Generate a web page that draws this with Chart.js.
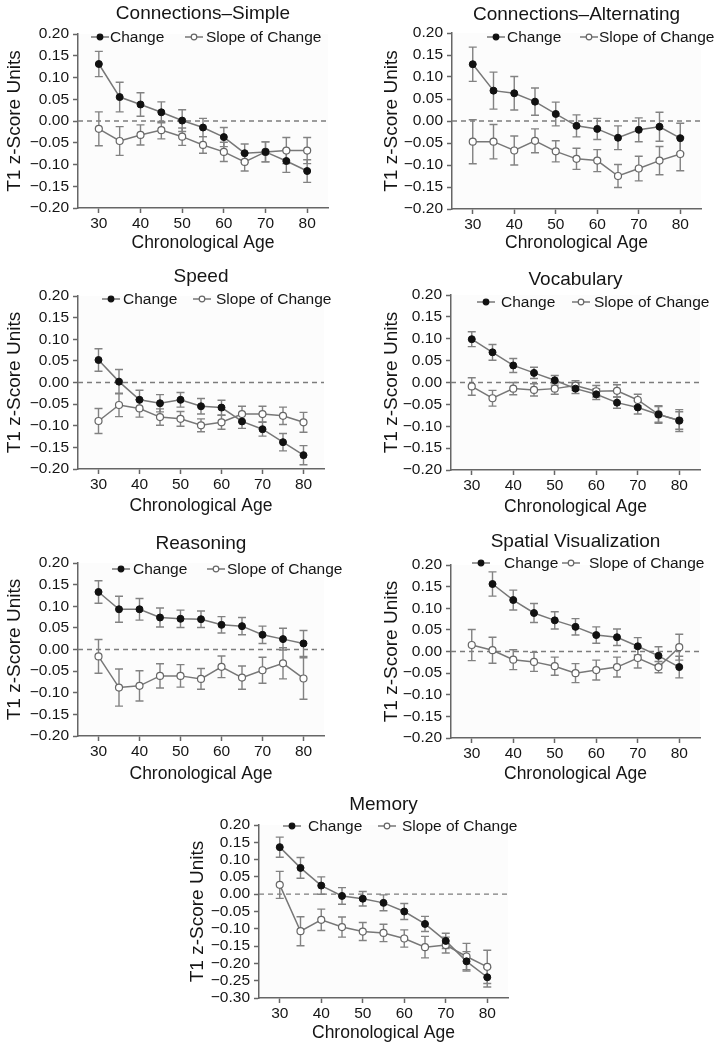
<!DOCTYPE html>
<html>
<head>
<meta charset="utf-8">
<script src="https://cdn.jsdelivr.net/npm/chart.js@4.4.0/dist/chart.umd.min.js"></script>
<style>
  html, body { margin: 0; padding: 0; background: #fff; }
  #page { position: relative; width: 724px; height: 1050px; overflow: hidden; }
  .panel { position: absolute; }
</style>
</head>
<body>
<div id="page"></div>
<script>
// x axis: chronological age groups
const ages = [30, 35, 40, 45, 50, 55, 60, 65, 70, 75, 80];
const ageTicks = [30, 40, 50, 60, 70, 80];
const zTicks = [-0.20, -0.15, -0.10, -0.05, 0.00, 0.05, 0.10, 0.15, 0.20];
const memoryTicks = [-0.30, -0.25, -0.20, -0.15, -0.10, -0.05, 0.00, 0.05, 0.10, 0.15, 0.20];

// Connections–Simple
const simpleChange    = [0.131, 0.055, 0.038, 0.020, 0.001, -0.015, -0.037, -0.074, -0.071, -0.092, -0.115];
const simpleChangeErr = [0.029, 0.034, 0.027, 0.024, 0.025, 0.021, 0.022, 0.021, 0.023, 0.026, 0.026];
const simpleSlope     = [-0.018, -0.046, -0.032, -0.021, -0.036, -0.055, -0.071, -0.094, -0.071, -0.068, -0.068];
const simpleSlopeErr  = [0.039, 0.033, 0.023, 0.020, 0.020, 0.019, 0.022, 0.021, 0.023, 0.030, 0.030];

// Connections–Alternating
const altChange    = [0.129, 0.069, 0.063, 0.044, 0.016, -0.011, -0.018, -0.038, -0.020, -0.013, -0.039];
const altChangeErr = [0.039, 0.042, 0.038, 0.031, 0.027, 0.025, 0.024, 0.027, 0.027, 0.033, 0.034];
const altSlope     = [-0.047, -0.047, -0.067, -0.045, -0.069, -0.086, -0.090, -0.125, -0.108, -0.090, -0.075];
const altSlopeErr  = [0.050, 0.039, 0.033, 0.027, 0.024, 0.024, 0.025, 0.026, 0.028, 0.032, 0.038];

// Speed
const speedChange    = [0.052, 0.002, -0.040, -0.048, -0.040, -0.055, -0.058, -0.090, -0.108, -0.138, -0.168];
const speedChangeErr = [0.026, 0.028, 0.022, 0.020, 0.017, 0.018, 0.017, 0.016, 0.016, 0.020, 0.022];
const speedSlope     = [-0.089, -0.052, -0.060, -0.080, -0.084, -0.099, -0.092, -0.073, -0.073, -0.077, -0.092];
const speedSlopeErr  = [0.029, 0.027, 0.020, 0.019, 0.017, 0.015, 0.016, 0.018, 0.018, 0.020, 0.023];

// Vocabulary
const vocabChange    = [0.099, 0.069, 0.039, 0.022, 0.005, -0.014, -0.027, -0.046, -0.057, -0.073, -0.087];
const vocabChangeErr = [0.017, 0.018, 0.016, 0.013, 0.011, 0.011, 0.012, 0.013, 0.015, 0.018, 0.020];
const vocabSlope     = [-0.009, -0.036, -0.014, -0.017, -0.014, -0.007, -0.020, -0.019, -0.040, -0.073, -0.087];
const vocabSlopeErr  = [0.020, 0.018, 0.014, 0.014, 0.013, 0.011, 0.013, 0.014, 0.013, 0.020, 0.025];

// Reasoning
const reasonChange    = [0.133, 0.093, 0.093, 0.074, 0.071, 0.070, 0.057, 0.054, 0.034, 0.024, 0.014];
const reasonChangeErr = [0.026, 0.030, 0.025, 0.022, 0.020, 0.019, 0.019, 0.020, 0.020, 0.025, 0.030];
const reasonSlope     = [-0.016, -0.088, -0.084, -0.061, -0.061, -0.068, -0.040, -0.065, -0.048, -0.032, -0.067];
const reasonSlopeErr  = [0.039, 0.043, 0.035, 0.028, 0.026, 0.024, 0.025, 0.027, 0.030, 0.036, 0.048];

// Spatial Visualization (no Change estimate at 30)
const spatialChange    = [null, 0.156, 0.119, 0.089, 0.072, 0.057, 0.038, 0.033, 0.012, -0.010, -0.036];
const spatialChangeErr = [null, 0.028, 0.023, 0.022, 0.020, 0.019, 0.019, 0.019, 0.020, 0.021, 0.025];
const spatialSlope     = [0.015, 0.003, -0.019, -0.024, -0.034, -0.050, -0.043, -0.036, -0.015, -0.036, 0.010];
const spatialSlopeErr  = [0.036, 0.030, 0.023, 0.022, 0.021, 0.022, 0.023, 0.023, 0.023, 0.013, 0.030];

// Memory
const memoryChange    = [0.136, 0.076, 0.025, -0.005, -0.013, -0.025, -0.050, -0.086, -0.135, -0.194, -0.240];
const memoryChangeErr = [0.029, 0.030, 0.025, 0.024, 0.021, 0.023, 0.023, 0.022, 0.022, 0.028, 0.028];
const memorySlope     = [0.027, -0.107, -0.074, -0.095, -0.108, -0.112, -0.128, -0.153, -0.147, -0.180, -0.210];
const memorySlopeErr  = [0.039, 0.042, 0.031, 0.029, 0.026, 0.025, 0.025, 0.031, 0.023, 0.038, 0.048];

const FONT = "'Liberation Sans', Arial, Helvetica, sans-serif";
const TEXT = '#151515';
const AXIS = '#666666';
const LINE = '#777777';
const ERR = '#828282';

// box = canvas position on page, area = plot area inside the canvas
const panels = [
  { title: 'Connections\u2013Simple', change: simpleChange, changeErr: simpleChangeErr, slope: simpleSlope, slopeErr: simpleSlopeErr, ticks: zTicks,
    box: [0, 0, 362, 260], area: [78, 34, 328, 208], titleY: 14, legendY: 37, legend: [[91, 110], [185, 206]], xTitleY: 243, yTitleX: 15 },
  { title: 'Connections\u2013Alternating', change: altChange, changeErr: altChangeErr, slope: altSlope, slopeErr: altSlopeErr, ticks: zTicks,
    box: [362, 0, 362, 260], area: [90, 33, 339, 209], titleY: 15, legendY: 37, legend: [[125, 145], [218, 237]], xTitleY: 243, yTitleX: 30 },
  { title: 'Speed', change: speedChange, changeErr: speedChangeErr, slope: speedSlope, slopeErr: speedSlopeErr, ticks: zTicks,
    box: [0, 260, 362, 260], area: [78, 36, 324, 209], titleY: 17, legendY: 39, legend: [[102, 123], [193, 216]], xTitleY: 246, yTitleX: 15 },
  { title: 'Vocabulary', change: vocabChange, changeErr: vocabChangeErr, slope: vocabSlope, slopeErr: vocabSlopeErr, ticks: zTicks,
    box: [362, 260, 362, 260], area: [89, 35, 338, 210], titleY: 20, legendY: 42, legend: [[115, 139], [210, 232]], xTitleY: 247, yTitleX: 30 },
  { title: 'Reasoning', change: reasonChange, changeErr: reasonChangeErr, slope: reasonSlope, slopeErr: reasonSlopeErr, ticks: zTicks,
    box: [0, 520, 362, 270], area: [78, 43, 324, 216], titleY: 24, legendY: 49, legend: [[112, 133], [207, 227]], xTitleY: 254, yTitleX: 15 },
  { title: 'Spatial Visualization', change: spatialChange, changeErr: spatialChangeErr, slope: spatialSlope, slopeErr: spatialSlopeErr, ticks: zTicks,
    box: [362, 520, 362, 270], area: [89, 45, 338, 218], titleY: 22, legendY: 43, legend: [[110, 142], [200, 227]], xTitleY: 254, yTitleX: 30 },
  { title: 'Memory', change: memoryChange, changeErr: memoryChangeErr, slope: memorySlope, slopeErr: memorySlopeErr, ticks: memoryTicks,
    box: [180, 790, 362, 260], area: [79, 35, 328, 208], titleY: 15, legendY: 36, legend: [[103, 128], [198, 222]], xTitleY: 243, yTitleX: 18 }
];

Chart.defaults.font.family = FONT;
Chart.defaults.color = TEXT;

function fmtZ(v) {
  const s = Math.abs(v).toFixed(2);
  return v < -1e-9 ? '\u2212' + s : s;
}

// error bars, dashed zero line, title and legend
const decor = {
  id: 'decor',
  beforeDraw(chart) {
    const a = chart.chartArea, ctx = chart.ctx;
    ctx.save();
    ctx.fillStyle = '#fcfcfc';
    ctx.fillRect(a.left, a.top, a.right - a.left, a.bottom - a.top);
    ctx.restore();
  },
  beforeDatasetsDraw(chart) {
    const ctx = chart.ctx, a = chart.chartArea;
    const xs = chart.scales.x, ys = chart.scales.y;
    ctx.save();
    // zero reference
    const y0 = ys.getPixelForValue(0);
    ctx.strokeStyle = '#7c7c7c';
    ctx.lineWidth = 1.3;
    ctx.setLineDash([5, 4]);
    ctx.beginPath();
    ctx.moveTo(a.left, y0);
    ctx.lineTo(a.right, y0);
    ctx.stroke();
    ctx.setLineDash([]);
    // error bars
    ctx.strokeStyle = ERR;
    ctx.lineWidth = 1.4;
    chart.data.datasets.forEach(ds => {
      ds.data.forEach((pt, i) => {
        if (pt.y === null || ds.errors[i] === null) return;
        const px = xs.getPixelForValue(pt.x);
        const hi = ys.getPixelForValue(pt.y + ds.errors[i]);
        const lo = ys.getPixelForValue(pt.y - ds.errors[i]);
        ctx.beginPath();
        ctx.moveTo(px, hi); ctx.lineTo(px, lo);
        ctx.moveTo(px - 4, hi); ctx.lineTo(px + 4, hi);
        ctx.moveTo(px - 4, lo); ctx.lineTo(px + 4, lo);
        ctx.stroke();
      });
    });
    ctx.restore();
  },
  afterDraw(chart, args, opts) {
    const ctx = chart.ctx, a = chart.chartArea;
    ctx.save();
    ctx.fillStyle = TEXT;
    ctx.font = '19px ' + FONT;
    ctx.textAlign = 'center';
    ctx.textBaseline = 'middle';
    ctx.fillText(opts.title, (a.left + a.right) / 2, opts.titleY);
    // legend
    ctx.font = '15.5px ' + FONT;
    ctx.textAlign = 'left';
    chart.data.datasets.forEach((ds, i) => {
      const [mx, tx] = opts.legend[i];
      const y = opts.legendY;
      ctx.strokeStyle = LINE;
      ctx.lineWidth = 1.5;
      ctx.beginPath();
      ctx.moveTo(mx, y); ctx.lineTo(mx + 18, y);
      ctx.stroke();
      ctx.beginPath();
      ctx.arc(mx + 9, y, 2.8, 0, Math.PI * 2);
      ctx.fillStyle = ds.pointBackgroundColor;
      ctx.fill();
      ctx.lineWidth = 1.2;
      ctx.strokeStyle = ds.pointBorderColor;
      ctx.stroke();
      ctx.fillStyle = TEXT;
      ctx.fillText(ds.label, tx, y + 1);
    });
    ctx.restore();
  }
};

const page = document.getElementById('page');

panels.forEach(p => {
  const [bx, by, bw, bh] = p.box;
  const [l, t, r, b] = p.area;
  const div = document.createElement('div');
  div.className = 'panel';
  div.style.left = bx + 'px';
  div.style.top = by + 'px';
  div.style.width = bw + 'px';
  div.style.height = bh + 'px';
  const canvas = document.createElement('canvas');
  canvas.width = bw;
  canvas.height = bh;
  canvas.style.width = bw + 'px';
  canvas.style.height = bh + 'px';
  div.appendChild(canvas);
  page.appendChild(div);

  const xFont = 17.5, yFont = 19;

  new Chart(canvas, {
    type: 'line',
    data: {
      datasets: [
        {
          label: 'Change',
          data: ages.map((a, i) => ({ x: a, y: p.change[i] })),
          errors: p.changeErr,
          borderColor: LINE,
          borderWidth: 1.5,
          pointRadius: 3.5,
          pointBackgroundColor: '#111111',
          pointBorderColor: '#111111',
          pointBorderWidth: 1,
          order: 0
        },
        {
          label: 'Slope of Change',
          data: ages.map((a, i) => ({ x: a, y: p.slope[i] })),
          errors: p.slopeErr,
          borderColor: LINE,
          borderWidth: 1.5,
          pointRadius: 3.5,
          pointBackgroundColor: '#ffffff',
          pointBorderColor: '#666666',
          pointBorderWidth: 1.2,
          order: 1
        }
      ]
    },
    options: {
      responsive: false,
      animation: false,
      devicePixelRatio: 1,
      layout: { padding: { left: 0, top: t, right: bw - r, bottom: 0 } },
      plugins: {
        legend: { display: false },
        title: { display: false },
        tooltip: { enabled: false },
        decor: { title: p.title, titleY: p.titleY, legendY: p.legendY, legend: p.legend }
      },
      scales: {
        x: {
          type: 'linear',
          min: 25,
          max: 85,
          afterBuildTicks: s => { s.ticks = ageTicks.map(v => ({ value: v })); },
          afterFit: s => { s.height = bh - b; },
          ticks: { font: { size: 15.5 }, color: TEXT, padding: 1, maxRotation: 0, autoSkip: false },
          grid: { display: true, drawOnChartArea: false, drawTicks: true, tickLength: 5, tickColor: AXIS, tickWidth: 1.5 },
          border: { display: true, color: AXIS, width: 1.5 },
          title: { display: true, text: 'Chronological Age', color: TEXT, font: { size: xFont },
                   padding: { top: 0, bottom: bh - p.xTitleY - xFont * 0.6 } }
        },
        y: {
          type: 'linear',
          min: p.ticks[0],
          max: p.ticks[p.ticks.length - 1],
          afterBuildTicks: s => { s.ticks = p.ticks.map(v => ({ value: v })); },
          afterFit: s => { s.width = l; },
          ticks: { font: { size: 15.5 }, color: TEXT, padding: 4, autoSkip: false, callback: v => fmtZ(v) },
          grid: { display: true, drawOnChartArea: false, drawTicks: true, tickLength: 5, tickColor: AXIS, tickWidth: 1.5 },
          border: { display: true, color: AXIS, width: 1.5 },
          title: { display: true, text: 'T1 z-Score Units', color: TEXT, font: { size: yFont },
                   padding: { top: p.yTitleX - yFont * 0.6, bottom: 0 } }
        }
      }
    },
    plugins: [decor]
  });
});
</script>
</body>
</html>
